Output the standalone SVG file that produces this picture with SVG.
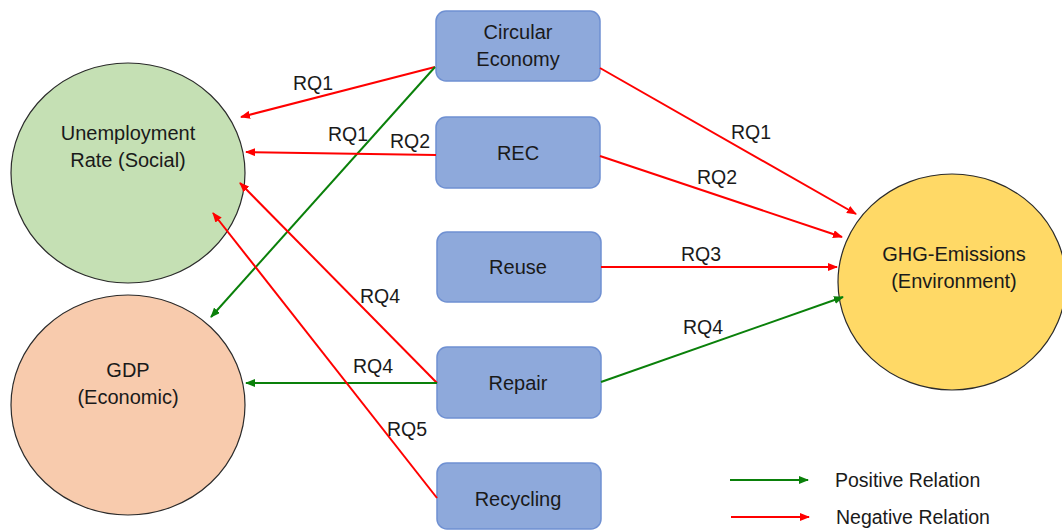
<svg xmlns="http://www.w3.org/2000/svg" width="1062" height="530" viewBox="0 0 1062 530">
<style>
text{font-family:"Liberation Sans",Arial,sans-serif;font-size:20px;fill:#1a1a1a;text-anchor:middle}
.lbl{font-size:19.5px}
.leg{text-anchor:start;font-size:19.5px}
.box{fill:#8EA9DB;stroke:#6F90D2;stroke-width:1.5}
.ell{stroke:#2b2b2b;stroke-width:1.2}
.neg{stroke:#FF0000;stroke-width:2;fill:none;marker-end:url(#ar)}
.pos{stroke:#0A800A;stroke-width:2;fill:none;marker-end:url(#ag)}
</style>
<defs>
<marker id="ar" markerUnits="userSpaceOnUse" markerWidth="10" markerHeight="8" refX="9" refY="4" orient="auto"><path d="M0,0 L10,4 L0,8 Z" fill="#FF0000"/></marker>
<marker id="ag" markerUnits="userSpaceOnUse" markerWidth="10" markerHeight="8" refX="9" refY="4" orient="auto"><path d="M0,0 L10,4 L0,8 Z" fill="#0A800A"/></marker>
</defs>
<rect width="1062" height="530" fill="#fff"/>
<g id="unemployment"><ellipse class="ell" cx="128" cy="173" rx="117" ry="110" fill="#C5E0B4"/><text x="128" y="140">Unemployment</text><text x="128" y="167">Rate (Social)</text></g>
<g id="gdp"><ellipse class="ell" cx="128" cy="405" rx="117" ry="110" fill="#F8CBAD"/><text x="128" y="377">GDP</text><text x="128" y="404">(Economic)</text></g>
<g id="ghg"><ellipse class="ell" cx="952" cy="282" rx="114" ry="108" fill="#FFD966"/><text x="954" y="261">GHG-Emissions</text><text x="954" y="288">(Environment)</text></g>
<g id="circular"><rect class="box" x="436" y="11" width="164" height="70" rx="10"/><text x="518" y="39">Circular</text><text x="518" y="66">Economy</text></g>
<g id="rec"><rect class="box" x="436" y="117" width="164" height="71" rx="10"/><text x="518" y="160">REC</text></g>
<g id="reuse"><rect class="box" x="437" y="232" width="164" height="70" rx="10"/><text x="518" y="274">Reuse</text></g>
<g id="repair"><rect class="box" x="437" y="347" width="164" height="71" rx="10"/><text x="518" y="390">Repair</text></g>
<g id="recycling"><rect class="box" x="437" y="463" width="164" height="66" rx="10"/><text x="518" y="506">Recycling</text></g>
<g id="connectors">
<line class="neg" x1="435" y1="67" x2="241" y2="117"/>
<line class="pos" x1="435" y1="67" x2="211" y2="317"/>
<line class="neg" x1="436" y1="155" x2="246" y2="152"/>
<line class="neg" x1="437" y1="383" x2="240" y2="183"/>
<line class="pos" x1="437" y1="383" x2="246" y2="383"/>
<line class="neg" x1="437" y1="498" x2="213" y2="213"/>
<line class="neg" x1="600" y1="68" x2="856" y2="214"/>
<line class="neg" x1="600" y1="156" x2="842" y2="237"/>
<line class="neg" x1="601" y1="267" x2="837" y2="267"/>
<line class="pos" x1="601" y1="382" x2="843" y2="297"/>
<line class="pos" x1="730" y1="480" x2="808" y2="480"/>
<line class="neg" x1="731" y1="517" x2="809" y2="517"/>
</g>
<g id="labels">
<text class="lbl" x="313" y="90">RQ1</text>
<text class="lbl" x="348" y="141">RQ1</text>
<text class="lbl" x="410" y="148">RQ2</text>
<text class="lbl" x="380" y="303">RQ4</text>
<text class="lbl" x="373" y="373">RQ4</text>
<text class="lbl" x="407" y="436">RQ5</text>
<text class="lbl" x="751" y="139">RQ1</text>
<text class="lbl" x="717" y="184">RQ2</text>
<text class="lbl" x="701" y="261">RQ3</text>
<text class="lbl" x="703" y="334">RQ4</text>
<text class="leg" x="835" y="487">Positive Relation</text>
<text class="leg" x="836" y="524">Negative Relation</text>
</g>
</svg>
